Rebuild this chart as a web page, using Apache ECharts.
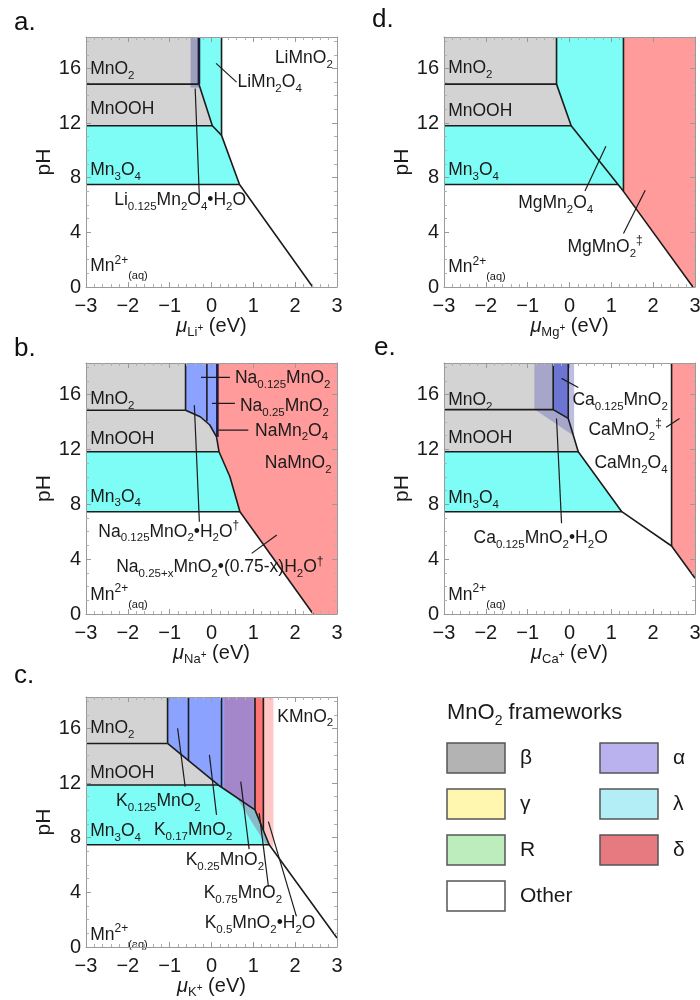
<!DOCTYPE html>
<html><head><meta charset="utf-8">
<script src="https://cdn.jsdelivr.net/npm/echarts@6/dist/echarts.min.js"></script>
<style>html,body{margin:0;padding:0;background:#fff}#chart{width:700px;height:1000px}</style>
</head><body><div id="chart"></div>
<script>
const FONT = '"Liberation Sans", Arial, Helvetica, sans-serif';
const YMAX = 18.3;
const xRange = [-3, 3];
const yTickStep = 4;
const panelLetters = ['a.', 'b.', 'c.', 'd.', 'e.'];
const ions = ['Li', 'Na', 'K', 'Mg', 'Ca'];

// ---------- panel a (Li) ----------
const aMnO2 = [[-3,YMAX],[-0.3,YMAX],[-0.3,14.85],[-3,14.85]];
const aMnOOH = [[-3,14.85],[-0.3,14.85],[0.02,11.8],[-3,11.8]];
const aMn3O4 = [[-3,11.8],[0.02,11.8],[0.24,11.1],[0.67,7.5],[-3,7.5]];
const aLiMn2O4 = [[-0.3,YMAX],[0.24,YMAX],[0.24,11.1],[0.02,11.8],[-0.3,14.85]];
const aLiHyd = [[-0.5,YMAX],[-0.3,YMAX],[-0.3,14.6],[-0.5,14.6]];
const aLines = [
  [[-3,14.85],[-0.3,14.85]], [[-3,11.8],[0.02,11.8]], [[-3,7.5],[0.67,7.5]],
  [[-0.3,14.85],[0.02,11.8],[0.24,11.1],[0.67,7.5],[2.42,0]], [[0.24,YMAX],[0.24,11.1]]
];
const aDark = [[[-0.3,YMAX],[-0.3,14.85]]];
const aLeaders = [[[0.11,16.37],[0.6,15.0]], [[-0.39,14.53],[-0.29,6.59]]];
const aLabels = [
  [-2.9,15.94,'MnO_{2}','left'], [-2.9,13.0,'MnOOH','left'], [-2.9,8.54,'Mn_{3}O_{4}','left'],
  [-2.9,1.52,'Mn^{2+}_[(aq)]','left'], [2.9,16.72,'LiMnO_{2}','right'], [0.62,15.0,'LiMn_{2}O_{4}','left'],
  [-0.75,6.35,'Li_{0.125}Mn_{2}O_{4}•H_{2}O','center']
];

// ---------- panel b (Na) ----------
const bMnO2 = [[-3,YMAX],[-0.62,YMAX],[-0.62,14.85],[-3,14.85]];
const bCurve = [[-0.62,14.85],[-0.27,14.38],[-0.04,13.78],[0.12,12.92],[0.18,11.83],[0.44,10.01],[0.68,7.46],[2.43,0]];
const bMnOOH = [[-3,14.85],[-0.62,14.85],[-0.27,14.38],[-0.04,13.78],[0.12,12.92],[0.18,11.83],[-3,11.83]];
const bMn3O4 = [[-3,11.83],[0.18,11.83],[0.44,10.01],[0.68,7.46],[-3,7.46]];
const bBlue = [[-0.62,YMAX],[0.14,YMAX],[0.14,12.9],[-0.04,13.78],[-0.27,14.38],[-0.62,14.85]];
const bRed = [[0.14,YMAX],[3,YMAX],[3,0],[2.43,0],[0.68,7.46],[0.44,10.01],[0.18,11.83],[0.14,12.9]];
const bLines = [
  [[-3,14.85],[-0.62,14.85]], [[-0.62,YMAX],[-0.62,14.85]], [[-0.11,YMAX],[-0.11,14.05]],
  [[-3,11.83],[0.18,11.83]], [[-3,7.46],[0.68,7.46]], bCurve
];
const bDark = [[[0.14,YMAX],[0.14,12.9]]];
const bLeaders = [
  [[-0.25,17.25],[0.44,17.25]], [[0.01,15.36],[0.56,15.36]], [[0.16,13.41],[0.88,13.41]],
  [[-0.41,15.23],[-0.29,6.73]], [[1.56,5.76],[0.96,4.42]]
];
const bLabels = [
  [-2.9,15.67,'MnO_{2}','left'], [-2.9,12.75,'MnOOH','left'], [-2.9,8.55,'Mn_{3}O_{4}','left'],
  [-2.9,1.4,'Mn^{2+}_[(aq)]','left'], [0.56,17.18,'Na_{0.125}MnO_{2}','left'],
  [0.68,15.16,'Na_{0.25}MnO_{2}','left'], [1.04,13.36,'NaMn_{2}O_{4}','left'],
  [2.87,10.98,'NaMnO_{2}','right'], [-1.02,6.0,'Na_{0.125}MnO_{2}•H_{2}O^{†}','center'],
  [0.2,3.4,'Na_{0.25+x}MnO_{2}•(0.75-x)H_{2}O^{†}','center']
];

// ---------- panel c (K) ----------
const cMnO2 = [[-3,YMAX],[-1.05,YMAX],[-1.05,14.9],[-3,14.9]];
const cMnOOH = [[-3,14.9],[-1.05,14.9],[0.16,11.86],[-3,11.86]];
const cMn3O4 = [[-3,11.86],[0.16,11.86],[1.04,10.04],[1.38,7.48],[-3,7.48]];
const cBlue = [[-1.05,YMAX],[0.3,YMAX],[0.3,11.57],[0.16,11.86],[-1.05,14.9]];
const cPurple = [[0.3,YMAX],[1.04,YMAX],[1.04,10.04],[0.3,11.57]];
const cRed = [[1.04,YMAX],[1.24,YMAX],[1.24,8.53],[1.04,10.04]];
const cPink = [[1.24,YMAX],[1.48,YMAX],[1.48,7.3],[1.38,7.48],[1.24,8.53]];
const cWedge = [[0.6,10.95],[1.04,10.04],[1.38,7.48],[1.3,7.48]];
const cLines = [
  [[-3,14.9],[-1.05,14.9]], [[-1.05,YMAX],[-1.05,14.9]], [[-0.55,YMAX],[-0.55,13.64]],
  [[0.24,YMAX],[0.24,11.69]], [[1.04,YMAX],[1.04,10.04]], [[1.24,YMAX],[1.24,8.53]],
  [[-1.05,14.9],[0.16,11.86],[1.04,10.04],[1.38,7.48],[3,0.66]],
  [[-3,11.86],[0.16,11.86]], [[-3,7.48],[1.38,7.48]]
];
const cLeaders = [
  [[-0.81,16.01],[-0.63,11.74]], [[-0.05,14.06],[0.12,9.67]], [[0.70,12.11],[0.90,7.16]],
  [[1.14,9.8],[1.36,4.43]], [[1.36,9.18],[2.03,2.24]]
];
const cLabels = [
  [-2.9,16.0,'MnO_{2}','left'], [-2.9,12.72,'MnOOH','left'], [-2.9,8.45,'Mn_{3}O_{4}','left'],
  [-2.9,0.9,'Mn^{2+}_[(aq)]','left'], [2.91,16.86,'KMnO_{2}','right'],
  [-1.27,10.64,'K_{0.125}MnO_{2}','center'], [-0.44,8.57,'K_{0.17}MnO_{2}','center'],
  [0.32,6.38,'K_{0.25}MnO_{2}','center'], [0.75,3.95,'K_{0.75}MnO_{2}','center'],
  [1.16,1.75,'K_{0.5}MnO_{2}•H_{2}O','center']
];

// ---------- panel d (Mg) ----------
const dMnO2 = [[-3,YMAX],[-0.31,YMAX],[-0.31,14.85],[-3,14.85]];
const dMnOOH = [[-3,14.85],[-0.31,14.85],[0.04,11.8],[-3,11.8]];
const dMn3O4 = [[-3,11.8],[0.04,11.8],[1.16,7.5],[-3,7.5]];
const dSpinel = [[-0.31,YMAX],[1.29,YMAX],[1.29,7.0],[0.04,11.8],[-0.31,14.85]];
const dRed = [[1.29,YMAX],[3,YMAX],[3,0],[2.95,0],[1.29,7.0]];
const dLines = [
  [[-3,14.85],[-0.31,14.85]], [[-0.31,YMAX],[-0.31,14.85]], [[-0.31,14.85],[0.04,11.8],[1.29,7.0],[2.95,0]],
  [[-3,11.8],[0.04,11.8]], [[-3,7.5],[1.16,7.5]], [[1.29,YMAX],[1.29,7.0]]
];
const dLeaders = [[[0.87,10.31],[0.37,7.03]], [[1.81,7.08],[1.29,3.91]]];
const dLabels = [
  [-2.9,16.0,'MnO_{2}','left'], [-2.9,12.9,'MnOOH','left'], [-2.9,8.55,'Mn_{3}O_{4}','left'],
  [-2.9,1.45,'Mn^{2+}_[(aq)]','left'], [-0.33,6.1,'MgMn_{2}O_{4}','center'],
  [0.85,2.93,'MgMnO_{2}^{‡}','center']
];

// ---------- panel e (Ca) ----------
const eMnO2 = [[-3,YMAX],[-0.39,YMAX],[-0.39,14.9],[-3,14.9]];
const eMnOOH = [[-3,14.9],[-0.39,14.9],[-0.03,14.26],[0.21,11.83],[-3,11.83]];
const eMn3O4 = [[-3,11.83],[0.21,11.83],[1.25,7.46],[-3,7.46]];
const eBlue = [[-0.39,YMAX],[-0.03,YMAX],[-0.03,14.26],[-0.39,14.9]];
const eHyd = [[-0.84,YMAX],[0.11,YMAX],[0.11,12.97],[-0.84,14.92]];
const eRed = [[2.44,YMAX],[3,YMAX],[3,2.6],[2.44,4.96]];
const eLines = [
  [[-3,14.9],[-0.39,14.9]], [[-0.39,YMAX],[-0.39,14.9]], [[-0.03,YMAX],[-0.03,14.26]],
  [[-0.39,14.9],[-0.03,14.26],[0.21,11.83],[1.25,7.46],[2.44,4.96],[3,2.6]],
  [[-3,11.83],[0.21,11.83]], [[-3,7.46],[1.25,7.46]], [[2.44,YMAX],[2.44,4.96]]
];
const eLeaders = [[[-0.19,17.18],[0.21,16.52]], [[2.31,13.61],[2.63,14.26]], [[-0.31,14.26],[-0.19,6.61]]];
const eLabels = [
  [-2.9,15.6,'MnO_{2}','left'], [-2.9,12.8,'MnOOH','left'], [-2.9,8.43,'Mn_{3}O_{4}','left'],
  [-2.9,1.38,'Mn^{2+}_[(aq)]','left'], [1.21,15.6,'Ca_{0.125}MnO_{2}','center'],
  [1.33,13.41,'CaMnO_{2}^{‡}','center'], [1.47,10.98,'CaMn_{2}O_{4}','center'],
  [-0.69,5.52,'Ca_{0.125}MnO_{2}•H_{2}O','center']
];

// ---------- legend ----------
const fwTitle = 'MnO_{2} frameworks';
const fwNames = ['β', 'γ', 'R', 'Other', 'α', 'λ', 'δ'];

// ---------- styles ----------
const FILL = {
  grey: '#d3d3d3', cyan: '#7dfdf5', red: '#ff9b9b', blue: '#8ca2ff', blueDark: '#6a7ce2',
  purple: '#a486ca', redDeep: '#ff7373', pink: '#ffc6c6',
  ovA: 'rgba(90,90,160,0.45)', ovE: 'rgba(110,110,190,0.45)', ovK: 'rgba(150,120,160,0.5)'
};
const fwColors = ['#b3b3b3', '#fff6b0', '#bdecbd', '#ffffff', '#b9b2ee', '#b3edf5', '#e67a80'];
const TXT = '#1a1a1a';

function st(size, pad) {
  const o = { fontSize: size, fontFamily: FONT, color: TXT, fill: TXT };
  if (pad) o.padding = pad;
  return o;
}
const LRICH = {
  n: st(17.5), ns: st(11.5, [13,0,0,0]), np: st(12, [0,0,12,0]), nq: st(11, [20,0,0,0])
};
const XRICH = {
  mu: Object.assign(st(20), {fontStyle: 'italic'}), n: st(20),
  sb: st(13, [12,0,0,0]), sp: st(10, [2,0,0,0])
};
const GRICH = { n: st(22), ns: st(14, [16,0,0,0]) };

function rt(s) {
  return s.split(/(_\{[^}]*\}|\^\{[^}]*\}|_\[[^\]]*\])/).filter(x => x !== '').map(t => {
    if (t.startsWith('_{')) return '{ns|' + t.slice(2, -1) + '}';
    if (t.startsWith('^{')) return '{np|' + t.slice(2, -1) + '}';
    if (t.startsWith('_[')) return '{nq|' + t.slice(2, -1) + '}';
    return '{n|' + t + '}';
  }).join('');
}

const GRIDS = [
  {left: 86, top: 37, width: 251, height: 250},
  {left: 86, top: 363, width: 251, height: 251},
  {left: 86, top: 697, width: 251, height: 250},
  {left: 444, top: 37, width: 251, height: 250},
  {left: 444, top: 363, width: 251, height: 251}
];
const LETTER_POS = [[14, 10], [14, 336], [14, 663], [372, 7], [374, 335]];

const panels = [
  { regions: [[aMnO2,'grey'],[aMnOOH,'grey'],[aMn3O4,'cyan'],[aLiMn2O4,'cyan'],[aLiHyd,'ovA']],
    lines: aLines, dark: aDark, leaders: aLeaders, labels: aLabels },
  { regions: [[bMnO2,'grey'],[bMnOOH,'grey'],[bMn3O4,'cyan'],[bBlue,'blue'],[bRed,'red']],
    lines: bLines, dark: bDark, leaders: bLeaders, labels: bLabels },
  { regions: [[cMnO2,'grey'],[cMnOOH,'grey'],[cMn3O4,'cyan'],[cBlue,'blue'],[cPurple,'purple'],[cRed,'redDeep'],[cPink,'pink'],[cWedge,'ovK']],
    lines: cLines, dark: [], leaders: cLeaders, labels: cLabels },
  { regions: [[dMnO2,'grey'],[dMnOOH,'grey'],[dMn3O4,'cyan'],[dSpinel,'cyan'],[dRed,'red']],
    lines: dLines, dark: [], leaders: dLeaders, labels: dLabels },
  { regions: [[eMnO2,'grey'],[eMnOOH,'grey'],[eMn3O4,'cyan'],[eBlue,'blueDark'],[eHyd,'ovE'],[eRed,'red']],
    lines: eLines, dark: [], leaders: eLeaders, labels: eLabels }
];

const AX = '#9a9a9a';
const xAxes = [], yAxes = [], series = [];
GRIDS.forEach((g, i) => {
  const common = { gridIndex: i, type: 'value', z: 10,
    axisLine: { show: true, onZero: false, lineStyle: { color: AX, width: 1 } },
    axisTick: { show: true, inside: true, length: 5, lineStyle: { color: AX } },
    minorTick: { show: true, length: 3, lineStyle: { color: '#b0b0b0' } },
    splitLine: { show: false }, minorSplitLine: { show: false } };
  const xc = Object.assign({}, common, { min: xRange[0], max: xRange[1], interval: 1,
    minorTick: Object.assign({}, common.minorTick, { splitNumber: 5 }) });
  const yc = Object.assign({}, common, { min: 0, max: YMAX, interval: yTickStep,
    minorTick: Object.assign({}, common.minorTick, { splitNumber: 4 }) });
  xAxes[i] = Object.assign({}, xc, { position: 'bottom',
    axisLabel: { color: TXT, fontSize: 20, fontFamily: FONT, margin: 9,
      formatter: v => String(v).replace('-', '\u2212') },
    name: '{mu|μ}{sb|' + ions[i] + '}{sp|+}{n| (eV)}', nameLocation: 'middle', nameGap: 23,
    nameTextStyle: { rich: XRICH } });
  xAxes[i + 5] = Object.assign({}, xc, { position: 'top', axisLabel: { show: false } });
  yAxes[i] = Object.assign({}, yc, { position: 'left',
    axisLabel: { color: TXT, fontSize: 20, fontFamily: FONT, margin: 5,
      formatter: v => (Math.abs(v % yTickStep) < 1e-9 && v < YMAX - 1) ? String(v) : '' },
    name: 'pH', nameLocation: 'middle', nameGap: 25,
    nameTextStyle: { fontSize: 21, fontFamily: FONT, color: TXT } });
  yAxes[i + 5] = Object.assign({}, yc, { position: 'right', axisLabel: { show: false } });

  const p = panels[i];
  p.regions.forEach(([pts, key], k) => {
    series.push({ type: 'custom', xAxisIndex: i, yAxisIndex: i, z: 1 + k * 0.01, silent: true,
      data: [pts[0]],
      renderItem: (params, api) => ({ type: 'polygon',
        shape: { points: pts.map(q => api.coord(q)) }, style: { fill: FILL[key] } }) });
  });
  p.lines.forEach(pts => series.push({ type: 'line', xAxisIndex: i, yAxisIndex: i, data: pts,
    symbol: 'none', silent: true, z: 4, lineStyle: { color: '#1c1c1c', width: 1.6 } }));
  p.dark.forEach(pts => series.push({ type: 'line', xAxisIndex: i, yAxisIndex: i, data: pts,
    symbol: 'none', silent: true, z: 4, lineStyle: { color: '#1c1c40', width: 2.6 } }));
  p.leaders.forEach(pts => series.push({ type: 'line', xAxisIndex: i, yAxisIndex: i, data: pts,
    symbol: 'none', silent: true, z: 5, lineStyle: { color: '#1c1c1c', width: 1.2 } }));
  const labs = p.labels;
  series.push({ type: 'custom', xAxisIndex: i, yAxisIndex: i, z: 6, silent: true,
    data: labs.map(l => [l[0], l[1]]),
    renderItem: (params, api) => {
      const l = labs[params.dataIndex];
      const c = api.coord([l[0], l[1]]);
      return { type: 'text', x: c[0], y: c[1],
        style: { text: rt(l[2]), rich: LRICH, align: l[3], verticalAlign: 'middle',
          fontSize: 17.5, fontFamily: FONT, fill: TXT } };
    } });
});

const titles = panelLetters.map((t, i) => ({ text: t, left: LETTER_POS[i][0], top: LETTER_POS[i][1],
  padding: 0, textStyle: { fontSize: 26, fontWeight: 'normal', color: '#111', fontFamily: FONT } }));

const graphic = [{ type: 'text', x: 447, y: 713,
  style: { text: rt(fwTitle), rich: GRICH, verticalAlign: 'middle',
    fontSize: 22, fontFamily: FONT, fill: TXT } }];
fwNames.forEach((name, i) => {
  const col = i < 4 ? 0 : 1, row = i < 4 ? i : i - 4;
  const bx = 447 + col * 153, by = 743 + row * 46;
  graphic.push({ type: 'rect', x: bx, y: by, shape: { width: 58, height: 30 },
    style: { fill: fwColors[i], stroke: '#555', lineWidth: 1.5 } });
  graphic.push({ type: 'text', x: bx + 73, y: by + 15,
    style: { text: name, fontSize: 21, fontFamily: FONT, fill: TXT, verticalAlign: 'middle' } });
});

const chart = echarts.init(document.getElementById('chart'), null, { renderer: 'canvas', width: 700, height: 1000 });
chart.setOption({
  animation: false,
  backgroundColor: '#ffffff',
  title: titles,
  grid: GRIDS.map(g => Object.assign({ containLabel: false, outerBoundsMode: 'none' }, g)),
  xAxis: xAxes, yAxis: yAxes, series, graphic
});
</script></body></html>
